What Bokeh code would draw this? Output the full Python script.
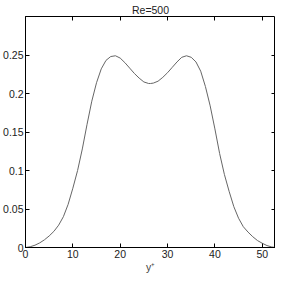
from bokeh.plotting import figure
from bokeh.models import Range1d, FixedTicker, LinearAxis
from bokeh.embed import file_html
from bokeh.resources import INLINE

title_text = "Re=500"
x_label = "y\u207a"

yplus = [0, 1, 2, 3, 4, 5, 6, 7, 8, 9, 10, 11, 12, 13, 14, 15, 16, 17, 18, 19,
         20, 21, 22, 23, 24, 25, 26, 26.4, 27, 28, 29, 30, 31, 32, 33, 34, 35, 36,
         37, 38, 39, 40, 41, 42, 43, 44, 45, 46, 47, 48, 49, 50, 51, 52, 52.8]
values = [0, 0.001, 0.003, 0.006, 0.010, 0.015, 0.021, 0.029, 0.040, 0.056,
          0.077, 0.100, 0.128, 0.160, 0.190, 0.214, 0.232, 0.243, 0.248, 0.249,
          0.246, 0.240, 0.233, 0.226, 0.220, 0.215, 0.213, 0.213, 0.2135, 0.216,
          0.221, 0.227, 0.234, 0.241, 0.247, 0.249, 0.247, 0.241, 0.229, 0.209,
          0.184, 0.154, 0.122, 0.095, 0.073, 0.053, 0.038, 0.027, 0.020, 0.014,
          0.009, 0.0055, 0.0025, 0.0007, 0]

x_ticks = [0, 10, 20, 30, 40, 50]
y_ticks = [0, 0.05, 0.1, 0.15, 0.2, 0.25]
y_tick_labels = ["0", "0.05", "0.1", "0.15", "0.2", "0.25"]

FONT = "Liberation Sans"

p = figure(width=275, height=275, output_backend="svg", toolbar_location=None,
           x_range=Range1d(0, 52.8), y_range=Range1d(0, 0.3),
           title=title_text, min_border_right=0, min_border_top=0,
           min_border_left=0, min_border_bottom=0)
p.title.align = "center"
p.title.text_font = FONT
p.title.text_font_size = "10.5px"
p.title.text_font_style = "normal"
p.title.text_color = "#222222"
p.title.standoff = 2

p.line(yplus, values, line_color="#666666", line_width=1)

p.grid.visible = False
p.outline_line_color = "black"
p.outline_line_width = 1

for ax in [p.xaxis[0], p.yaxis[0]]:
    ax.major_tick_in = 4
    ax.major_tick_out = 0
    ax.minor_tick_line_color = None
    ax.axis_line_color = "black"
    ax.major_label_text_font = FONT
    ax.major_label_text_font_size = "10.5px"
    ax.major_label_text_color = "#222222"
    ax.axis_label_text_font = FONT
    ax.axis_label_text_font_size = "10.5px"
    ax.axis_label_text_font_style = "normal"
    ax.major_label_standoff = 2

p.xaxis[0].ticker = FixedTicker(ticks=x_ticks)
p.yaxis[0].ticker = FixedTicker(ticks=y_ticks)
p.yaxis[0].major_label_overrides = {t: l for t, l in zip(y_ticks, y_tick_labels)}
p.xaxis[0].axis_label = x_label
p.xaxis[0].axis_label_standoff = 0

top = LinearAxis(ticker=FixedTicker(ticks=x_ticks), major_tick_in=4, major_tick_out=0,
                 minor_tick_line_color=None, axis_line_color=None,
                 major_label_standoff=0,
                 major_label_overrides={t: "" for t in x_ticks})
right = LinearAxis(ticker=FixedTicker(ticks=y_ticks), major_tick_in=4, major_tick_out=0,
                   minor_tick_line_color=None, axis_line_color=None,
                   major_label_standoff=0,
                   major_label_overrides={t: "" for t in y_ticks})
p.add_layout(top, "above")
p.add_layout(right, "right")

open("out.html", "w").write(file_html(p, INLINE))
